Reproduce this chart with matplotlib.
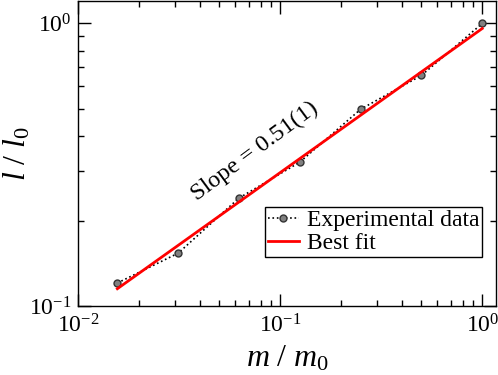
import matplotlib
matplotlib.use("Agg")
import matplotlib.pyplot as plt
import numpy as np

plt.rcParams["font.family"] = "Liberation Serif"
plt.rcParams["mathtext.fontset"] = "custom"
plt.rcParams["mathtext.rm"] = "Liberation Serif"
plt.rcParams["mathtext.it"] = "Liberation Serif:italic"

# measured points
mass_ratio = [1 / 64, 1 / 32, 1 / 16, 1 / 8, 1 / 4, 1 / 2, 1.0]
length_ratio = [0.1206, 0.1538, 0.241, 0.323, 0.497, 0.655, 1.0]

# power law fit l/l0 = A * (m/m0)^slope
fit_slope = 0.51
fit_prefactor = 0.96
fit_x = np.array([1 / 64, 1.0])
fit_y = fit_prefactor * fit_x ** fit_slope

fig = plt.figure(figsize=(4.98, 3.75), dpi=100)
ax = fig.add_axes([0.157, 0.184, 0.839, 0.813])

ax.plot(mass_ratio, length_ratio, ":", color="black", lw=1.2,
        marker="o", ms=5, mfc="#808080", mec="#333333", mew=1,
        label="Experimental data")
ax.plot(fit_x, fit_y, "-", color="red", lw=2, label="Best fit")

ax.set_xscale("log")
ax.set_yscale("log")
ax.set_xlim(1e-2, 1.17)
ax.set_ylim(1e-1, 1.2)

ax.tick_params(which="both", direction="in", top=True, right=True,
               labelsize=17)
ax.tick_params(axis="x", pad=6)
ax.tick_params(axis="y", pad=5)
ax.tick_params(which="major", length=9, width=1)
ax.tick_params(which="minor", length=4, width=1)
for s in ax.spines.values():
    s.set_linewidth(1)

ax.set_xlabel(r"$m\ /\ m_0$", fontsize=23)
ax.xaxis.set_label_coords(0.5, -0.125)
ax.set_ylabel(r"$l\ /\ l_0$", fontsize=23)
ax.yaxis.set_label_coords(-0.11, 0.5)

ax.text(0.0388, 0.235, "Slope = 0.51(1)", fontsize=17.5, rotation=36.5,
        rotation_mode="anchor", ha="left", va="baseline")

leg = ax.legend(loc="lower right", bbox_to_anchor=(0.967, 0.161),
                borderaxespad=0, fontsize=17, handlelength=1.3,
                handletextpad=0.35, borderpad=0.12, labelspacing=0.05,
                fancybox=False, framealpha=1, edgecolor="black")
leg.get_frame().set_linewidth(1)

fig.savefig("out.png", dpi=100)
